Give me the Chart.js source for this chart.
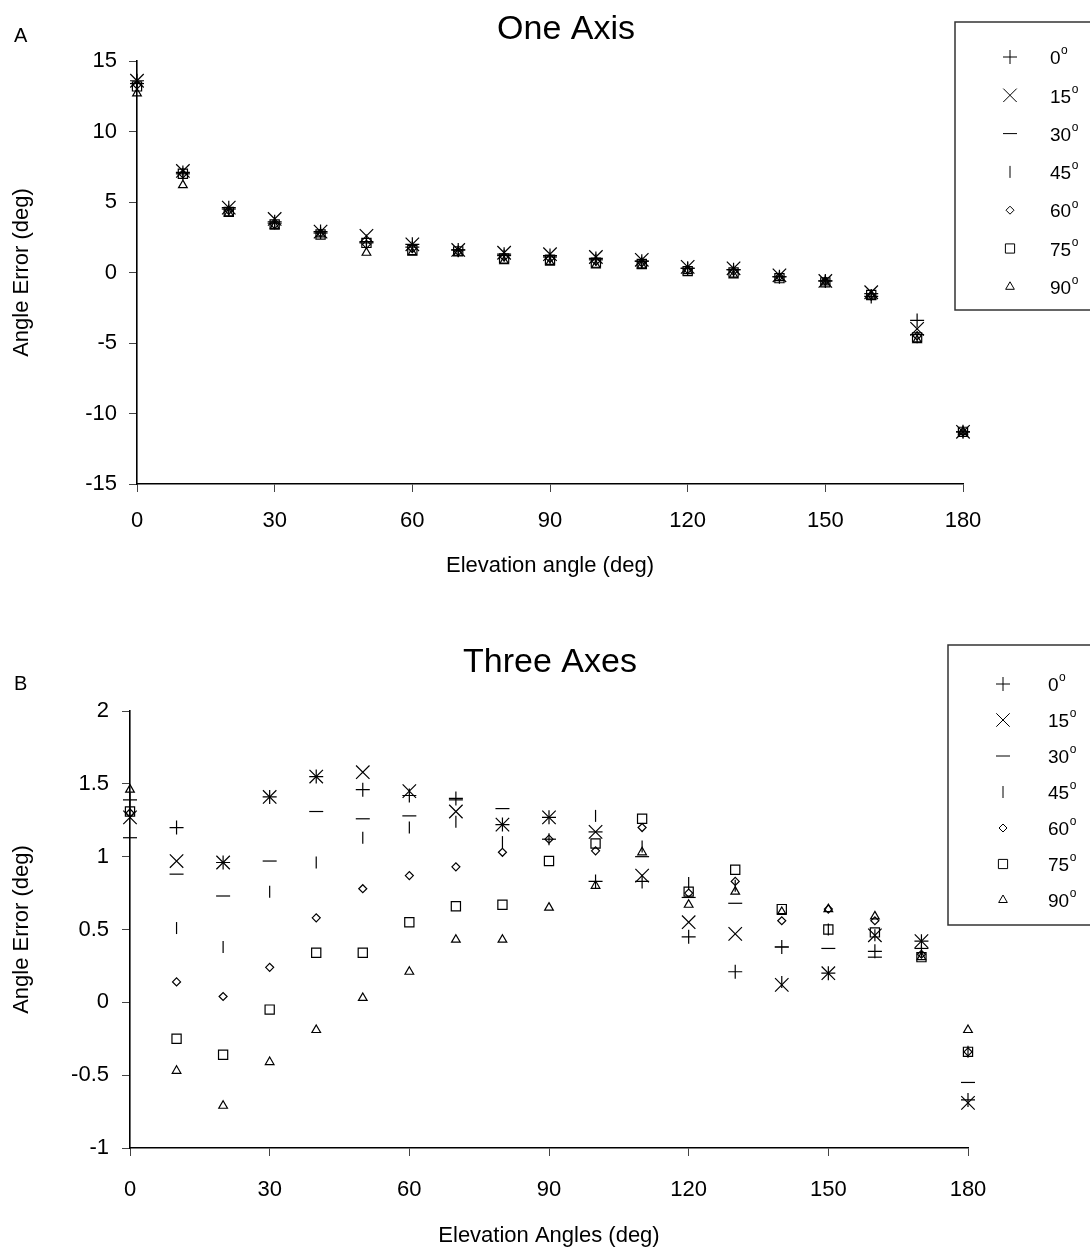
<!DOCTYPE html>
<html>
<head>
<meta charset="utf-8">
<script src="https://cdn.jsdelivr.net/npm/chart.js@4.4.0/dist/chart.umd.min.js"></script>
<style>
  html, body { margin: 0; padding: 0; background: #fff; }
  #wrap { position: relative; width: 1090px; height: 1250px; overflow: hidden; }
  canvas { position: absolute; left: 0; }
  #chartA { top: 0; }
  #chartB { top: 600px; }
</style>
</head>
<body>
<div id="wrap">
  <canvas id="chartA" width="1090" height="600"></canvas>
  <canvas id="chartB" width="1090" height="650"></canvas>
</div>
<script>
'use strict';

// elevation angles (x) shared by both panels
const angles = [0, 10, 20, 30, 40, 50, 60, 70, 80, 90, 100, 110, 120, 130, 140, 150, 160, 170, 180];
const seriesNames = ['0', '15', '30', '45', '60', '75', '90'];

// A: one axis
const oneAxis0  = [13.6, 7.1, 4.6, 3.6, 2.9, 2.2, 2.0, 1.6, 1.3, 1.2, 1.0, 0.8, 0.3, 0.2, -0.3, -0.6, -1.7, -3.4, -11.3];
const oneAxis15 = [13.6, 7.2, 4.6, 3.8, 2.9, 2.6, 2.0, 1.6, 1.4, 1.3, 1.1, 0.9, 0.4, 0.3, -0.2, -0.6, -1.4, -4.0, -11.3];
const oneAxis30 = [13.4, 7.0, 4.5, 3.5, 2.8, 2.1, 1.8, 1.6, 1.2, 1.1, 0.9, 0.8, 0.3, 0.2, -0.3, -0.6, -1.5, -4.4, -11.3];
const oneAxis45 = [13.3, 7.0, 4.4, 3.5, 2.8, 2.1, 1.8, 1.5, 1.2, 1.0, 0.9, 0.7, 0.3, 0.1, -0.3, -0.6, -1.6, -4.6, -11.3];
const oneAxis60 = [13.3, 7.0, 4.4, 3.4, 2.8, 2.0, 1.7, 1.5, 1.1, 1.0, 0.8, 0.7, 0.2, 0.1, -0.3, -0.6, -1.6, -4.5, -11.3];
const oneAxis75 = [13.2, 7.0, 4.3, 3.4, 2.7, 2.1, 1.6, 1.5, 1.0, 0.9, 0.7, 0.6, 0.1, 0.0, -0.4, -0.7, -1.6, -4.6, -11.3];
const oneAxis90 = [12.7, 6.2, 4.2, 3.3, 2.7, 1.4, 1.4, 1.4, 0.8, 0.7, 0.5, 0.5, 0.1, -0.2, -0.4, -0.7, -1.7, -4.8, -11.3];

// B: three axes
const threeAxes0  = [1.39, 1.20, 0.96, 1.41, 1.55, 1.46, 1.42, 1.40, 1.22, 1.27, 0.83, 0.83, 0.45, 0.21, 0.38, 0.20, 0.35, 0.42, -0.67];
const threeAxes15 = [1.27, 0.97, 0.96, 1.41, 1.55, 1.58, 1.45, 1.31, 1.22, 1.27, 1.17, 0.87, 0.55, 0.47, 0.12, 0.20, 0.46, 0.42, -0.69];
const threeAxes30 = [1.13, 0.88, 0.73, 0.97, 1.31, 1.26, 1.28, 1.39, 1.33, 1.12, 1.17, 1.00, 0.72, 0.68, 0.38, 0.37, 0.31, 0.37, -0.55];
const threeAxes45 = [1.30, 0.51, 0.38, 0.76, 0.96, 1.13, 1.20, 1.24, 1.10, 1.12, 1.28, 1.07, 0.82, 0.80, 0.14, 0.50, 0.46, 0.35, -0.34];
const threeAxes60 = [1.30, 0.14, 0.04, 0.24, 0.58, 0.78, 0.87, 0.93, 1.03, 1.12, 1.04, 1.20, 0.75, 0.83, 0.56, 0.64, 0.56, 0.33, -0.34];
const threeAxes75 = [1.31, -0.25, -0.36, -0.05, 0.34, 0.34, 0.55, 0.66, 0.67, 0.97, 1.09, 1.26, 0.76, 0.91, 0.64, 0.50, 0.48, 0.31, -0.34];
const threeAxes90 = [1.46, -0.47, -0.71, -0.41, -0.19, 0.03, 0.21, 0.43, 0.43, 0.65, 0.80, 1.03, 0.67, 0.76, 0.62, 0.64, 0.59, 0.31, -0.19];

// ticks
const xTicks = [0, 30, 60, 90, 120, 150, 180];
const yTicksA = [-15, -10, -5, 0, 5, 10, 15];
const yTicksB = [-1, -0.5, 0, 0.5, 1, 1.5, 2];

const FONT = '"Liberation Sans", Arial, sans-serif';
const markers = [
  { pointStyle: 'cross',    radius: 7,   rotation: 0 },
  { pointStyle: 'crossRot', radius: 9.5, rotation: 0 },
  { pointStyle: 'line',     radius: 7,   rotation: 0 },
  { pointStyle: 'line',     radius: 6,   rotation: 90 },
  { pointStyle: 'rectRot',  radius: 4,   rotation: 0 },
  { pointStyle: 'rect',     radius: 6.5, rotation: 0 },
  { pointStyle: 'triangle', radius: 5,   rotation: 0 },
];

function makeDatasets(seriesList) {
  return seriesList.map((vals, i) => ({
    label: seriesNames[i] + '°',
    data: angles.map((a, j) => ({ x: a, y: vals[j] })),
    pointStyle: markers[i].pointStyle,
    pointRadius: markers[i].radius,
    pointRotation: markers[i].rotation,
    pointBorderColor: '#000',
    pointBackgroundColor: 'rgba(0,0,0,0)',
    pointBorderWidth: 1.2,
    showLine: false,
    clip: false,
  }));
}

// titles, panel letter and boxed legend
const decorPlugin = {
  id: 'decor',
  afterDraw(chart, args, o) {
    const ctx = chart.ctx;
    ctx.save();
    ctx.fillStyle = '#000';
    ctx.textBaseline = 'middle';
    ctx.textAlign = 'center';
    ctx.font = '34px ' + FONT;
    ctx.fillText(o.title, o.titleX, o.titleY);
    ctx.textAlign = 'left';
    ctx.font = '20px ' + FONT;
    ctx.fillText(o.letter, 14, o.letterY);

    const lg = o.legend;
    ctx.strokeStyle = '#333';
    ctx.lineWidth = 1.5;
    ctx.fillStyle = '#fff';
    ctx.fillRect(lg.x, lg.y, lg.w, lg.h);
    ctx.strokeRect(lg.x, lg.y, lg.w, lg.h);

    chart.data.datasets.forEach((ds, i) => {
      const y = lg.rowY + i * lg.step;
      ctx.strokeStyle = '#000';
      ctx.fillStyle = 'rgba(0,0,0,0)';
      ctx.lineWidth = 1;
      Chart.helpers.drawPoint(ctx, {
        pointStyle: ds.pointStyle,
        rotation: ds.pointRotation,
        radius: ds.pointRadius,
        borderWidth: 1,
      }, lg.symX, y);
      ctx.fillStyle = '#000';
      ctx.font = '19px ' + FONT;
      ctx.textAlign = 'left';
      const num = seriesNames[i];
      ctx.fillText(num, lg.textX, y + 2);
      const w = ctx.measureText(num).width;
      ctx.font = '12px ' + FONT;
      ctx.fillText('o', lg.textX + w + 0.5, y - 6);
    });
    ctx.restore();
  },
};

function axisOptions(cfg) {
  return {
    x: {
      type: 'linear', min: 0, max: 180,
      afterBuildTicks: (s) => { s.ticks = xTicks.map((v) => ({ value: v })); },
      afterFit: (s) => { s.height = cfg.xHeight; },
      ticks: { color: '#000', font: { family: FONT, size: 22 }, padding: cfg.xPad,
               callback: (v) => String(v) },
      grid: { drawOnChartArea: false, tickLength: 8, color: '#444', lineWidth: 1 },
      border: { color: '#000', width: 1.6 },
      title: { display: true, text: cfg.xTitle, color: '#000', font: { family: FONT, size: 22 },
               padding: { top: 0, bottom: cfg.xTitlePad } },
    },
    y: {
      type: 'linear', min: cfg.yMin, max: cfg.yMax,
      afterBuildTicks: (s) => { s.ticks = cfg.yTicks.map((v) => ({ value: v })); },
      afterFit: (s) => { s.width = cfg.yWidth; },
      ticks: { color: '#000', font: { family: FONT, size: 22 }, padding: cfg.yPad,
               callback: (v) => String(v) },
      grid: { drawOnChartArea: false, tickLength: 8, color: '#444', lineWidth: 1 },
      border: { color: '#000', width: 1.6 },
      title: { display: true, text: 'Angle Error (deg)', color: '#000', font: { family: FONT, size: 22 },
               padding: { top: 9, bottom: 0 } },
    },
  };
}

new Chart(document.getElementById('chartA'), {
  type: 'scatter',
  data: { datasets: makeDatasets([oneAxis0, oneAxis15, oneAxis30, oneAxis45, oneAxis60, oneAxis75, oneAxis90]) },
  options: {
    responsive: false,
    animation: false,
    layout: { padding: { left: 0, top: 61, right: 127, bottom: 0 } },
    plugins: {
      legend: { display: false },
      tooltip: { enabled: false },
      decor: {
        title: 'One Axis', titleX: 566, titleY: 30, letter: 'A', letterY: 36,
        legend: { x: 955, y: 22, w: 150, h: 288, rowY: 57, step: 38.3, symX: 1010, textX: 1050 },
      },
    },
    scales: axisOptions({
      xHeight: 116, xPad: 16, xTitle: 'Elevation angle (deg)', xTitlePad: 21,
      yMin: -15, yMax: 15, yTicks: yTicksA, yWidth: 137, yPad: 12,
    }),
  },
  plugins: [decorPlugin],
});

new Chart(document.getElementById('chartB'), {
  type: 'scatter',
  data: { datasets: makeDatasets([threeAxes0, threeAxes15, threeAxes30, threeAxes45, threeAxes60, threeAxes75, threeAxes90]) },
  options: {
    responsive: false,
    animation: false,
    layout: { padding: { left: 0, top: 111, right: 122, bottom: 0 } },
    plugins: {
      legend: { display: false },
      tooltip: { enabled: false },
      decor: {
        title: 'Three Axes', titleX: 550, titleY: 63, letter: 'B', letterY: 84,
        legend: { x: 948, y: 45, w: 150, h: 280, rowY: 84, step: 36, symX: 1003, textX: 1048 },
      },
    },
    scales: axisOptions({
      xHeight: 102, xPad: 21, xTitle: 'Elevation Angles (deg)', xTitlePad: 1,
      yMin: -1, yMax: 2, yTicks: yTicksB, yWidth: 130, yPad: 13,
    }),
  },
  plugins: [decorPlugin],
});
</script>
</body>
</html>
